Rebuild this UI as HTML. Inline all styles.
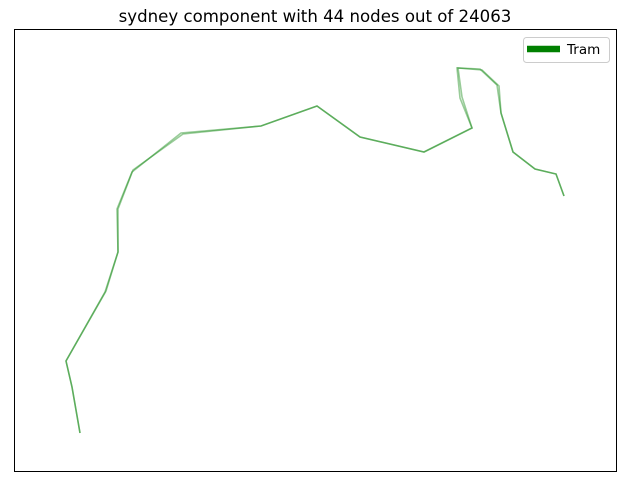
<!DOCTYPE html>
<html><head><meta charset="utf-8"><style>
body{margin:0;background:#fff;}
svg{display:block;font-family:"DejaVu Sans","Liberation Sans",sans-serif;}
</style></head><body>
<svg id="chart" width="630" height="486">
<rect width="630" height="486" fill="#fff"/>
<text x="315" y="22" text-anchor="middle" font-size="16.6" fill="#000">sydney component with 44 nodes out of 24063</text>
<g id="plot"></g>
<rect x="14.5" y="29.5" width="602" height="442" fill="none" stroke="#000" stroke-width="1"/>
<g>
<rect x="523.5" y="37.5" width="86" height="25" rx="3" fill="#fff" fill-opacity="0.8" stroke="#ccc"/>
<line x1="527" y1="49" x2="560" y2="49" stroke="#008000" stroke-width="6.5"/>
<text x="567" y="54" font-size="13.5" fill="#000">Tram</text>
</g>
</svg>
<script>
const lon1 = [151.133,151.129,151.126,151.1455,151.152,151.1515,151.159,151.1835,151.2235,151.2515,151.273,151.305,151.329,151.323,151.3215,151.333,151.3415,151.3435,151.3495,151.3605,151.371,151.375];
const lat1 = [-34.002,-33.979,-33.966,-33.9315,-33.9115,-33.890,-33.8715,-33.852,-33.8485,-33.8385,-33.854,-33.8615,-33.8495,-33.8345,-33.8195,-33.820,-33.828,-33.842,-33.8615,-33.870,-33.8725,-33.8835];
const lon2 = [151.133,151.129,151.126,151.146,151.152,151.152,151.1595,151.1845,151.2235,151.2515,151.273,151.305,151.329,151.324,151.322,151.334,151.3425,151.3435,151.3495,151.3605,151.371,151.375];
const lat2 = [-34.002,-33.979,-33.966,-33.931,-33.9115,-33.890,-33.8705,-33.8525,-33.8485,-33.8385,-33.854,-33.8615,-33.8495,-33.834,-33.8195,-33.8205,-33.8285,-33.842,-33.8615,-33.870,-33.8725,-33.8835];
const xDomain = [151.100, 151.4015];
const yDomain = [-33.800, -34.0215];
function xs(v){return 14 + (v - xDomain[0]) / (xDomain[1] - xDomain[0]) * 603;}
function ys(v){return 29 + (v - yDomain[0]) / (yDomain[1] - yDomain[0]) * 443;}
const plot = document.getElementById('plot');
const ns = 'http://www.w3.org/2000/svg';
[[lon1,lat1],[lon2,lat2]].forEach(function(s, i){
  const p = document.createElementNS(ns,'polyline');
  p.setAttribute('points', s[0].map(function(v,j){return xs(v).toFixed(1)+','+ys(s[1][j]).toFixed(1);}).join(' '));
  p.setAttribute('fill','none');
  p.setAttribute('stroke','#008000');
  p.setAttribute('stroke-opacity','0.4');
  p.setAttribute('stroke-width','1.6');
  
  
  plot.appendChild(p);
});
</script>
</body></html>
